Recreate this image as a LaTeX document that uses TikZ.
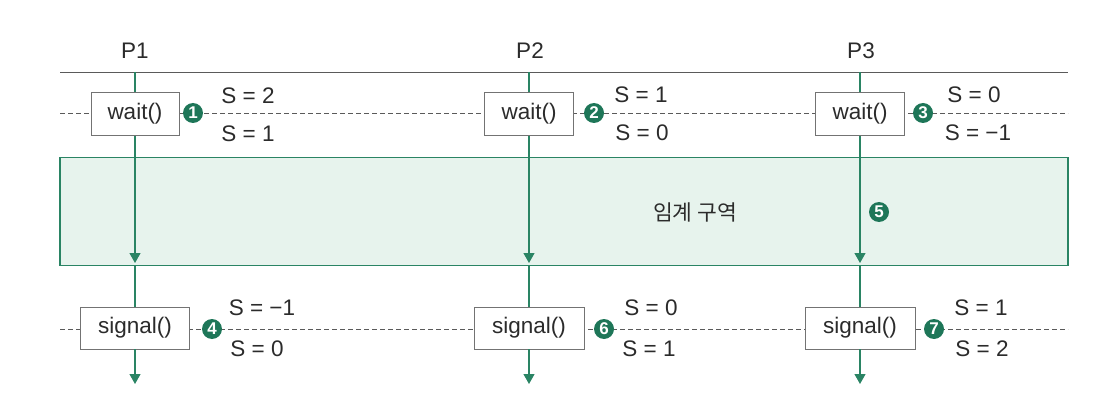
\documentclass[tikz,border=0pt]{standalone}
\usepackage{fontspec}
\setmainfont{Liberation Sans}
\newfontfamily\krfont{Noto Sans CJK KR}
\usetikzlibrary{arrows.meta}
\definecolor{grn}{HTML}{1E7658}
\definecolor{grnline}{HTML}{2A8464}
\definecolor{grnfill}{HTML}{E7F3ED}
\definecolor{lgray}{HTML}{5A5A5A}
\definecolor{txtc}{HTML}{2B2B2B}
\begin{document}
\begin{tikzpicture}[x=1pt,y=-1pt,
  txt/.style={font=\fontsize{22.5}{26}\selectfont, text=txtc, inner sep=0pt},
  fbox/.style={draw=lgray!85, fill=white, line width=0.9pt, font=\fontsize{22.5}{26}\selectfont, text=txtc, inner sep=0pt, minimum height=43pt},
  num/.style={circle, fill=grn, text=white, inner sep=0pt, minimum size=20pt, font=\bfseries\fontsize{17}{17}\selectfont},
  dline/.style={lgray, line width=0.7pt, dash pattern=on 5pt off 3pt},
  vline/.style={grnline, line width=1.2pt},
  varrow/.style={grnline, line width=1.2pt, -{Triangle[length=10pt,width=11pt]}},
  critbox/.style={draw=grnline, fill=grnfill, line width=1.3pt, inner sep=0pt}
]
\useasboundingbox (0,0) rectangle (1093,409);

% top line
\coordinate (tl) at (60,72);
\coordinate (tr) at (1068,72);
\draw[lgray, line width=0.8pt] (tl) -- (tr);

% process labels
\node[txt] (p1) at (135,51) {P1};
\node[txt] (p2) at (530,51) {P2};
\node[txt] (p3) at (861,51) {P3};

% dashed lines
\coordinate (dl1) at (60,113);
\coordinate (dr1) at (1068,113);
\coordinate (dl2) at (60,329);
\coordinate (dr2) at (1068,329);
\draw[dline] (dl1) -- (dr1);
\draw[dline] (dl2) -- (dr2);

% critical section
\node[critbox, minimum width=1008pt, minimum height=108pt] (cs) at (564,211.5) {};
\node[txt, font=\krfont\fontsize{21.5}{24}\selectfont] (cslabel) at (695,212.5) {임계 구역};

% wait boxes
\node[fbox, minimum width=88pt] (w1) at (135,114) {wait()};
\node[fbox, minimum width=89pt] (w2) at (529,114) {wait()};
\node[fbox, minimum width=89pt] (w3) at (860,114) {wait()};

% signal boxes
\node[fbox, minimum width=109pt, minimum height=42pt] (s1) at (135,328) {signal()};
\node[fbox, minimum width=110pt, minimum height=42pt] (s2) at (529,328) {signal()};
\node[fbox, minimum width=110pt, minimum height=42pt] (s3) at (860,328) {signal()};

% vertical flows
\foreach \i/\x in {1/135,2/529,3/860}{
  \coordinate (top\i) at (\x,72);
  \coordinate (csb\i) at (\x,263);
  \coordinate (csc\i) at (\x,265);
  \coordinate (end\i) at (\x,384);
}
\draw[vline] (top1) -- (w1.north);
\draw[vline] (top2) -- (w2.north);
\draw[vline] (top3) -- (w3.north);
\draw[varrow] (w1.south) -- (csb1);
\draw[varrow] (w2.south) -- (csb2);
\draw[varrow] (w3.south) -- (csb3);
\draw[vline] (csc1) -- (s1.north);
\draw[vline] (csc2) -- (s2.north);
\draw[vline] (csc3) -- (s3.north);
\draw[varrow] (s1.south) -- (end1);
\draw[varrow] (s2.south) -- (end2);
\draw[varrow] (s3.south) -- (end3);

% numbered markers
\node[num] (n1) at (193,113) {1};
\node[num] (n2) at (594,113) {2};
\node[num] (n3) at (923,113) {3};
\node[num] (n4) at (212,329) {4};
\node[num] (n5) at (879,212) {5};
\node[num] (n6) at (604,329) {6};
\node[num] (n7) at (934,329) {7};

% semaphore values
\node[txt] (a1) at (248,96) {S = 2};
\node[txt] (b1) at (248,134) {S = 1};
\node[txt] (a2) at (641,95) {S = 1};
\node[txt] (b2) at (642,133) {S = 0};
\node[txt] (a3) at (974,95) {S = 0};
\node[txt] (b3) at (978,133) {S = −1};
\node[txt] (a4) at (262,308) {S = −1};
\node[txt] (b4) at (257,349) {S = 0};
\node[txt] (a6) at (651,308) {S = 0};
\node[txt] (b6) at (649,349) {S = 1};
\node[txt] (a7) at (981,308) {S = 1};
\node[txt] (b7) at (982,349) {S = 2};
\end{tikzpicture}
\end{document}
